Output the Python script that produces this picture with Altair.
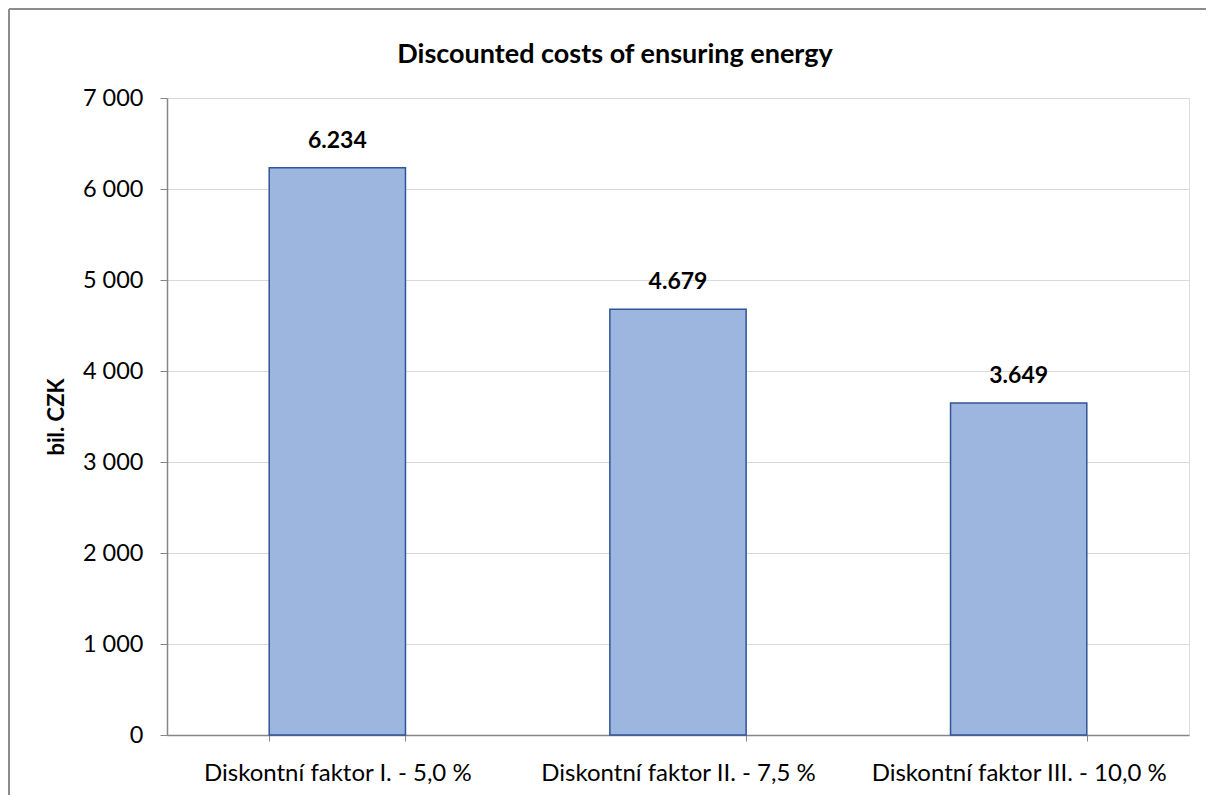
import altair as alt
import pandas as pd

categories = ["Diskontní faktor I. - 5,0 %", "Diskontní faktor II. - 7,5 %", "Diskontní faktor III. - 10,0 %"]
values = [6234, 4679, 3649]
y_ticks = [0, 1000, 2000, 3000, 4000, 5000, 6000, 7000]
title_text = "Discounted costs of ensuring energy"

df = pd.DataFrame({"cat": categories, "value": values})

FONT = "Lato"
W, H = 1022, 637

x_enc = alt.X("cat:N", sort=categories, title=None,
              scale=alt.Scale(paddingInner=0.6, paddingOuter=0.3),
              axis=alt.Axis(labelAngle=0, labelFontSize=24, labelFont=FONT, labelColor="#000000",
                            labelLimit=0, labelPadding=20, tickBand="extent", tickSize=6,
                            tickColor="#868686", domainColor="#868686", domainWidth=1.5, grid=False))
y_enc = alt.Y("value:Q", title="bil. CZK",
              scale=alt.Scale(domain=[0, 7000], nice=False),
              axis=alt.Axis(values=y_ticks, labelExpr="replace(format(datum.value, ','), ',', ' ')",
                            labelFontSize=23.5, labelFont=FONT, labelColor="#000000", labelPadding=17,
                            tickSize=7, tickColor="#868686", domainColor="#868686", domainWidth=1.5,
                            gridColor="#d9d9d9", gridWidth=1.2,
                            titleFont=FONT, titleFontSize=22, titleFontWeight="bold",
                            titleColor="#000000", titlePadding=14))

bars = alt.Chart(df).mark_bar(fill="#9db6e0", stroke="#2f5597", strokeWidth=1.5).encode(
    x=x_enc, y=y_enc
)

labels = alt.Chart(df).transform_calculate(
    label="format(datum.value / 1000, '.3f')"
).mark_text(dy=-27, font=FONT, fontSize=23, fontWeight="bold", color="#000000").encode(
    x=alt.X("cat:N", sort=categories),
    y=alt.Y("value:Q"),
    text="label:N",
)

title = alt.Chart(pd.DataFrame({"t": [title_text]})).mark_text(
    font=FONT, fontSize=27, fontWeight="bold", color="#000000", align="center", baseline="middle"
).encode(x=alt.value(448), y=alt.value(-43), text="t:N")

border_top = alt.Chart(df).mark_rule(color="#8c8c8c", strokeWidth=2).encode(
    x=alt.value(-158), x2=alt.value(1045), y=alt.value(-89)
)
border_left = alt.Chart(df).mark_rule(color="#8c8c8c", strokeWidth=2).encode(
    x=alt.value(-158), y=alt.value(-89), y2=alt.value(700)
)

chart = alt.layer(bars, labels, title, border_top, border_left).properties(
    width=W, height=H,
    padding={"left": 159, "top": 90, "right": 17, "bottom": 60},
    autosize=alt.AutoSizeParams(type="none"),
).configure_view(stroke=None).configure(background="white")

chart.save("out.html", embed_options={"renderer": "svg", "actions": False})
